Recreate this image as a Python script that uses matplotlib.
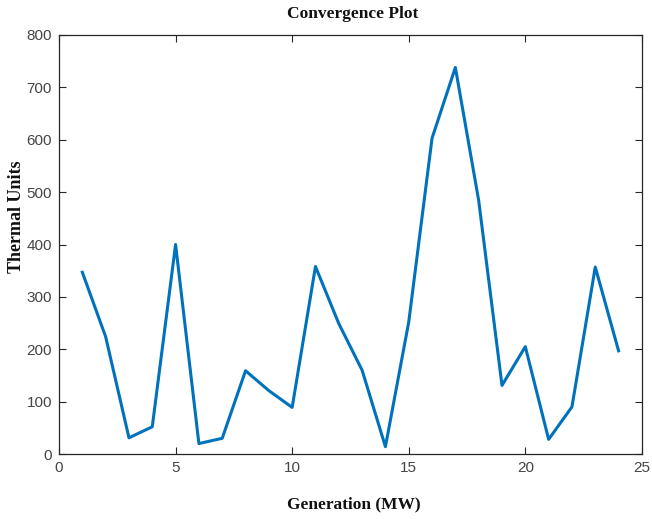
import matplotlib
matplotlib.use('Agg')
import matplotlib.pyplot as plt

generation = [1, 2, 3, 4, 5, 6, 7, 8, 9, 10, 11, 12,
              13, 14, 15, 16, 17, 18, 19, 20, 21, 22, 23, 24]
thermal = [347, 224, 31, 52, 400, 20, 30, 159, 121, 89, 358, 249,
           160, 14, 252, 603, 738, 484, 131, 205, 28, 90, 357, 197]

x_ticks = [0, 5, 10, 15, 20, 25]
y_ticks = [0, 100, 200, 300, 400, 500, 600, 700, 800]

fig = plt.figure(figsize=(6.52, 5.19), dpi=100)
ax = fig.add_axes([0.0905, 0.1252, 0.894, 0.8074])

ax.plot(generation, thermal, color='#0072BD', linewidth=2.2)

ax.set_xlim(0, 25)
ax.set_ylim(0, 800)
ax.set_xticks(x_ticks)
ax.set_yticks(y_ticks)

ax.tick_params(direction='in', top=True, right=True, length=5, width=0.8,
               labelsize=11, colors='#262626', pad=5)
for lbl in ax.get_xticklabels() + ax.get_yticklabels():
    lbl.set_family('Liberation Sans')
    lbl.set_color('#454545')
for s in ax.spines.values():
    s.set_linewidth(0.9)
    s.set_color('#262626')

serif = {'family': 'Liberation Serif', 'weight': 'bold', 'color': '#111111'}
fig.text(0.541, 0.973, 'Convergence Plot', fontsize=12.5,
         ha='center', va='center', **serif)
fig.text(0.543, 0.029, 'Generation (MW)', fontsize=12.5,
         ha='center', va='center', **serif)
# y label sits a bit above the axes centre in the original
fig.text(0.025, 0.582, 'Thermal Units', fontsize=13, rotation=90,
         ha='center', va='center', **serif)

fig.savefig('out.png', dpi=100)
